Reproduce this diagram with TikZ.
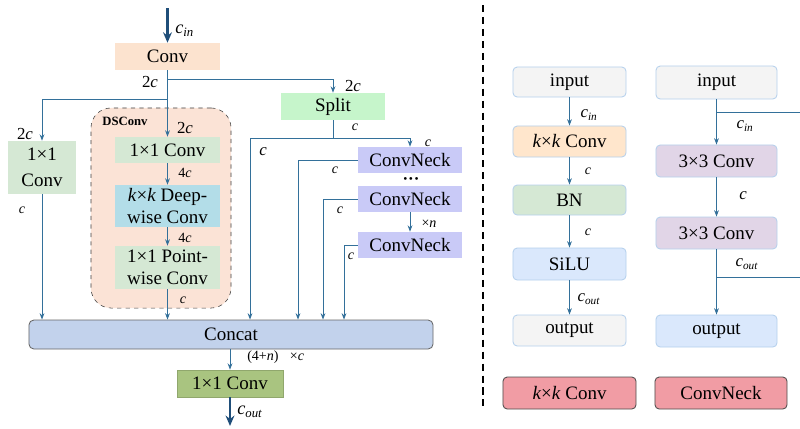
\documentclass[tikz,border=0pt]{standalone}
\usepackage{fontspec}
\setmainfont{Liberation Serif}
\usetikzlibrary{arrows.meta, calc}

\definecolor{convpeach}{HTML}{FCE3CF}
\definecolor{dsfill}{HTML}{FBE3D6}
\definecolor{splitgreen}{HTML}{C6F5CB}
\definecolor{softgreen}{HTML}{D5E8D4}
\definecolor{dwblue}{HTML}{B3DDE8}
\definecolor{lavender}{HTML}{C9CAF7}
\definecolor{concatblue}{HTML}{C2D2EC}
\definecolor{olive}{HTML}{A9C480}
\definecolor{keypink}{HTML}{F19CA4}
\definecolor{edgeblue}{HTML}{B4D0EC}
\definecolor{softpurple}{HTML}{E1D5E7}
\definecolor{kpeach}{HTML}{FFE6CC}
\definecolor{silublue}{HTML}{DAE8FC}
\definecolor{softgray}{HTML}{F4F4F4}
\definecolor{lnk}{HTML}{33709A}
\definecolor{ioblue}{HTML}{1F4E79}

\newcommand{\chn}[1]{\textit{c}\textsubscript{\textit{#1}}}

\begin{document}
\begin{tikzpicture}[
    x=0.025cm, y=-0.025cm,
    font=\fontsize{13.5}{15.5}\selectfont,
    blk/.style={
        rectangle, fill=#1, inner sep=1pt, align=center
    },
    rblk/.style={
        rectangle, rounded corners=3pt, draw=edgeblue, line width=0.6pt,
        fill=#1, inner sep=1pt, align=center
    },
    keybox/.style={
        rectangle, rounded corners=3pt, draw=black!70, line width=0.6pt,
        fill=keypink, minimum height=0.8cm
    },
    link/.style={draw=lnk, line width=0.6pt},
    arrow/.style={link, -{Stealth[length=1.6mm, width=1.2mm]}},
    iolink/.style={draw=ioblue, line width=1.6pt, -{Stealth[length=2.6mm, width=2.2mm]}},
    lbl/.style={font=\fontsize{10}{12}\selectfont\itshape, inner sep=0pt},
    lblb/.style={font=\fontsize{12}{14}\selectfont, inner sep=0pt},
    divider/.style={draw=black, line width=1.4pt, dash pattern=on 5pt off 3.5pt}
]
\useasboundingbox (0,0) rectangle (800,428);

% DSConv group in the back
\node[rectangle, rounded corners=0.5cm, draw=black!75, dashed, fill=dsfill,
      minimum width=3.5cm, minimum height=5cm] (ds) at (161,208) {};
\node[font=\fontsize{9}{10}\selectfont\bfseries, inner sep=0pt] (dsname) at (125,121) {DSConv};

% Left panel blocks
\node[blk=convpeach, minimum width=2.625cm, minimum height=0.675cm] (conv) at (167.5,56.5) {Conv};
\node[blk=splitgreen, minimum width=2.6cm, minimum height=0.675cm] (split) at (333,106.5) {Split};
\node[blk=softgreen, minimum width=2.625cm, minimum height=0.65cm] (pw1) at (167.5,150) {1×1 Conv};
\node[blk=dwblue, minimum width=2.6cm, minimum height=1.05cm] (dw) at (167.5,206) {\textit{k}×\textit{k} Deep-\\wise Conv};
\node[blk=softgreen, minimum width=2.625cm, minimum height=1.075cm] (pw2) at (167.5,267.5) {1×1 Point-\\wise Conv};
\node[blk=softgreen, minimum width=1.7cm, minimum height=1.325cm] (conva) at (42,167.5) {1×1\\[3pt]Conv};
\node[blk=lavender, minimum width=2.6cm, minimum height=0.65cm] (cn1) at (410,160) {ConvNeck};
\node[blk=lavender, minimum width=2.6cm, minimum height=0.65cm] (cn2) at (410,199) {ConvNeck};
\node[blk=lavender, minimum width=2.6cm, minimum height=0.65cm] (cn3) at (410,245) {ConvNeck};
\node[rectangle, rounded corners=3.5pt, draw=black!60, line width=0.6pt, fill=concatblue,
      minimum width=10.1cm, minimum height=0.725cm] (concat) at (231,334.5) {Concat};
\node[blk=olive, draw=olive!85!black, line width=0.4pt, minimum width=2.65cm, minimum height=0.675cm] (convout) at (230,383.5) {1×1 Conv};

% Free ends of the in/out arrows and branch points
\coordinate (cin) at (167.5,8);
\coordinate (cout) at (230,426);
\coordinate (b1) at (167.5,79);
\coordinate (b2) at (167.5,99);
\coordinate (b3) at (333,138);

% Left panel connectors
\draw[iolink] (cin) -- (conv);
\draw[arrow] (conv) -- (pw1);
\draw[arrow] (b1) -| (split);
\draw[arrow] (b2) -| (conva);
\draw[arrow] (conva) -- (conva |- concat.north);
\draw[arrow] (pw1) -- (dw);
\draw[arrow] (dw) -- (pw2);
\draw[arrow] (pw2) -- (pw2 |- concat.north);
\draw[link] (split) -- (b3);
\draw[arrow] (b3) -| ($(concat.north)+(19,0)$);
\draw[arrow] (b3) -| (cn1);
\draw[arrow] (cn1.west) -| ($(concat.north)+(67,0)$);
\draw[arrow] (cn2.west) -| ($(concat.north)+(92,0)$);
\draw[arrow] (cn3.west) -| ($(concat.north)+(113,0)$);
\draw[arrow] (cn2) -- (cn3);
\draw[arrow] (concat.south -| convout) -- (convout);
\draw[iolink] (convout) -- (cout);

% Left panel labels
\node[font=\fontsize{13}{15}\selectfont, inner sep=0pt, anchor=west] (lcin) at (175,31) {\chn{in}};
\node[lblb] (l2c1) at (150,82) {2\textit{c}};
\node[lblb] (l2c2) at (353,86) {2\textit{c}};
\node[lblb] (l2c3) at (25,134) {2\textit{c}};
\node[lblb] (l2c4) at (185,128) {2\textit{c}};
\node[lbl] (l4c1) at (185,173) {\upshape 4\textit{c}};
\node[lbl] (l4c2) at (185,238) {\upshape 4\textit{c}};
\node[lbl] (lc1) at (183,300) {c};
\node[lbl] (lc2) at (22,210) {c};
\node[lbl] (lc3) at (355,127) {c};
\node[lblb] (lc4) at (263,152) {\textit{c}};
\node[lbl] (lc5) at (428,143) {c};
\node[lbl] (lc6) at (335,170) {c};
\node[lbl] (lc7) at (340,210) {c};
\node[lbl] (lc8) at (351,256) {c};
\node[inner sep=0pt, font=\fontsize{12}{12}\selectfont\bfseries] (dots) at (411,181) {···};
\node[lbl] (ln) at (429,224) {\upshape ×\textit{n}};
\node[lbl, anchor=west] (lsum) at (247,357) {\upshape (4+\textit{n})\hspace{8pt}×\textit{c}};
\node[font=\fontsize{13}{15}\selectfont, inner sep=0pt, anchor=west] (lcout) at (237,412) {\chn{out}};

% Divider
\coordinate (d1) at (483,5);
\coordinate (d2) at (483,410);
\draw[divider] (d1) -- (d2);

% Right panel: k x k Conv
\node[rblk=softgray, minimum width=2.825cm, minimum height=0.75cm] (in1) at (569.5,82) {input};
\node[rblk=kpeach, minimum width=2.825cm, minimum height=0.775cm] (kconv) at (569.5,141.5) {\textit{k}×\textit{k} Conv};
\node[rblk=softgreen, minimum width=2.825cm, minimum height=0.75cm] (bn) at (569.5,200) {BN};
\node[rblk=silublue, minimum width=2.825cm, minimum height=0.8cm] (silu) at (569.5,264) {SiLU};
\node[rblk=softgray, minimum width=2.825cm, minimum height=0.775cm] (out1) at (569.5,330.5) {output};
\node[keybox, minimum width=3.325cm] (key1) at (569.5,393) {\textit{k}×\textit{k} Conv};

\draw[arrow] (in1) -- (kconv);
\draw[arrow] (kconv) -- (bn);
\draw[arrow] (bn) -- (silu);
\draw[arrow] (silu) -- (out1);

\node[font=\fontsize{12}{14}\selectfont, inner sep=0pt] (rcin1) at (589,115) {\chn{in}};
\node[lbl] (rc1) at (588,171) {c};
\node[lbl] (rc2) at (588,232) {c};
\node[font=\fontsize{12}{14}\selectfont, inner sep=0pt] (rcout1) at (589,299) {\chn{out}};

% Right panel: ConvNeck
\node[rblk=softgray, minimum width=3.025cm, minimum height=0.825cm] (in2) at (716.5,82.5) {input};
\node[rblk=softpurple, minimum width=3.025cm, minimum height=0.8cm] (c33a) at (716.5,161) {3×3 Conv};
\node[rblk=softpurple, minimum width=3.025cm, minimum height=0.8cm] (c33b) at (716.5,233) {3×3 Conv};
\node[rblk=silublue, minimum width=3.025cm, minimum height=0.8cm] (out2) at (716.5,331) {output};
\node[keybox, minimum width=3.3cm] (key2) at (721,393) {ConvNeck};

\coordinate (r1) at (800,112);
\coordinate (r2) at (800,277);
\draw[arrow] (in2) -- (c33a);
\draw[arrow] (c33a) -- (c33b);
\draw[arrow] (c33b) -- (out2);
\draw[link] (in2.south |- r1) -- (r1);
\draw[link] (c33b.south |- r2) -- (r2);

\node[font=\fontsize{12}{14}\selectfont, inner sep=0pt] (rcin2) at (745,126) {\chn{in}};
\node[lblb] (rc3) at (743,196) {\textit{c}};
\node[font=\fontsize{12}{14}\selectfont, inner sep=0pt] (rcout2) at (747,264) {\chn{out}};

\end{tikzpicture}
\end{document}
